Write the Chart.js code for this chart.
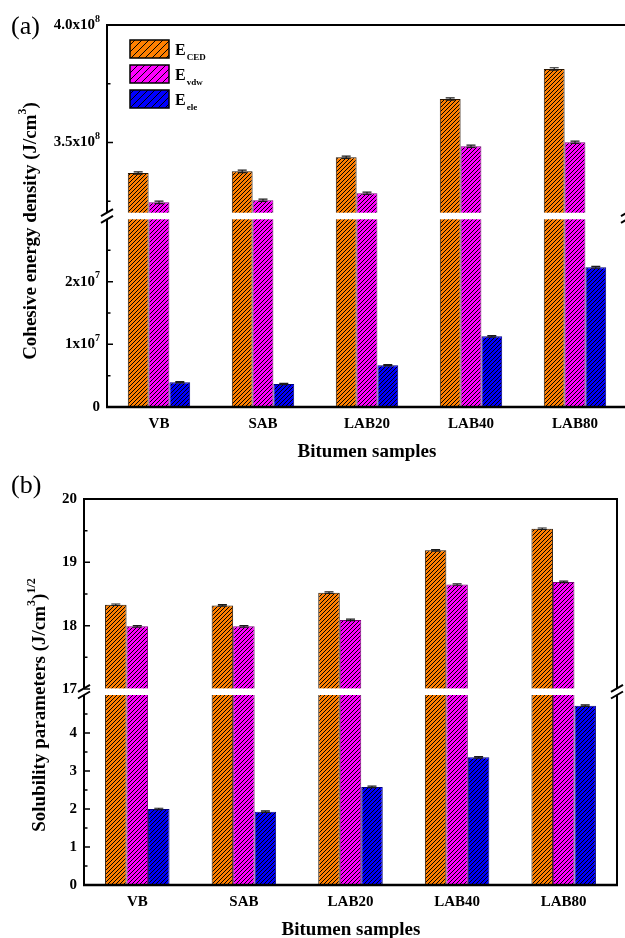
<!DOCTYPE html>
<html>
<head>
<meta charset="utf-8">
<script src="https://cdn.jsdelivr.net/npm/chart.js@4.4.0/dist/chart.umd.min.js"></script>
<style>
html, body { margin: 0; padding: 0; background: #fff; overflow: hidden; width: 625px; height: 938px; }
canvas { position: absolute; left: 0; }
</style>
</head>
<body>
<canvas id="chartA" width="640" height="468" style="top:0"></canvas>
<canvas id="chartB" width="625" height="470" style="top:468px"></canvas>
<script>
const samples = ['VB', 'SAB', 'LAB20', 'LAB40', 'LAB80'];

// (a) cohesive energy density (J/cm3)
const eCED = [3.370e8, 3.377e8, 3.437e8, 3.685e8, 3.813e8];
const eVdw = [3.245e8, 3.254e8, 3.284e8, 3.484e8, 3.501e8];
const eEle = [3.94e6, 3.67e6, 6.65e6, 1.128e7, 2.23e7];
const eCEDErr = [0.5e6, 0.5e6, 0.5e6, 0.5e6, 0.5e6];
const eVdwErr = [0.5e6, 0.5e6, 0.5e6, 0.5e6, 0.5e6];
const eEleErr = [1.0e5, 1.0e5, 1.0e5, 1.2e5, 1.5e5];

// (b) solubility parameters (J/cm3)^1/2
const dTotal = [18.33, 18.32, 18.52, 19.19, 19.53];
const dVdw = [17.99, 17.99, 18.09, 18.65, 18.69];
const dEle = [2.00, 1.93, 2.58, 3.36, 4.72];
const dTotalErr = [0.012, 0.012, 0.012, 0.012, 0.012];
const dVdwErr = [0.012, 0.012, 0.012, 0.012, 0.012];
const dEleErr = [0.02, 0.02, 0.02, 0.02, 0.02];

// tick values / labels ("^" starts a superscript)
const aLowTicks = [0, 1e7, 2e7];
const aLowLabels = ['0', '1x10^7', '2x10^7'];
const aLowMinor = [5e6, 1.5e7, 2.5e7];
const aHighTicks = [3.5e8, 4.0e8];
const aHighLabels = ['3.5x10^8', '4.0x10^8'];
const aHighMinor = [3.25e8, 3.75e8];

const bLowTicks = [0, 1, 2, 3, 4];
const bLowLabels = ['0', '1', '2', '3', '4'];
const bLowMinor = [0.5, 1.5, 2.5, 3.5, 4.5];
const bHighTicks = [17, 18, 19, 20];
const bHighLabels = ['17', '18', '19', '20'];
const bHighMinor = [17.5, 18.5, 19.5];

const fillColors = ['#FF8000', '#FF00FF', '#0000FF'];
const edgeColors = ['#2a1500', '#7a007a', '#000080'];
const FONT = '"Liberation Serif", "Times New Roman", serif';

Chart.defaults.font.family = FONT;

// crisp "/" hatch: one dark pixel per row of the tile
function hatch(ctx, color, size) {
  const c = document.createElement('canvas');
  c.width = size; c.height = size;
  const g = c.getContext('2d');
  g.fillStyle = color;
  g.fillRect(0, 0, size, size);
  g.fillStyle = '#000';
  for (let k = 0; k < size; k++) g.fillRect(k, size - 1 - k, 1, 1);
  return ctx.createPattern(c, 'repeat');
}

function parseRich(s) {
  const k = s.indexOf('^');
  if (k < 0) return [[s, false]];
  return [[s.slice(0, k), false], [s.slice(k + 1), true]];
}

function drawRich(ctx, parts, x, y, align, size, supSize, rise) {
  let w = 0;
  parts.forEach(([t, sup]) => {
    ctx.font = 'bold ' + (sup ? supSize : size) + 'px ' + FONT;
    w += ctx.measureText(t).width;
  });
  let cx = align === 'right' ? x - w : align === 'center' ? x - w / 2 : x;
  ctx.textAlign = 'left';
  ctx.textBaseline = 'middle';
  ctx.fillStyle = '#000';
  parts.forEach(([t, sup]) => {
    ctx.font = 'bold ' + (sup ? supSize : size) + 'px ' + FONT;
    ctx.fillText(t, cx, sup ? y - rise : y);
    cx += ctx.measureText(t).width;
  });
}

function makeDecor(p) {
  return {
    id: 'decor',
    afterDraw(chart) {
      const ctx = chart.ctx;
      const area = chart.chartArea;
      const yL = chart.scales.yLow, yH = chart.scales.yHigh;
      const yb = yH.bottom;
      const gap = 3.3;
      ctx.save();

      // error bars
      p.series.forEach((s, i) => {
        s.values.forEach((v, j) => {
          const high = v > p.high.min;
          const sc = high ? yH : yL;
          const bar = chart.getDatasetMeta(i * 2 + (high ? 1 : 0)).data[j];
          const x = bar.x, e = s.err[j];
          const yt = sc.getPixelForValue(v + e), ybo = sc.getPixelForValue(v - e);
          ctx.strokeStyle = '#1a1a1a';
          ctx.lineWidth = 1.2;
          ctx.beginPath();
          ctx.moveTo(x, yt); ctx.lineTo(x, ybo);
          ctx.moveTo(x - 4.5, yt); ctx.lineTo(x + 4.5, yt);
          ctx.moveTo(x - 4.5, ybo); ctx.lineTo(x + 4.5, ybo);
          ctx.stroke();
        });
      });

      // white break band
      ctx.fillStyle = '#fff';
      ctx.fillRect(area.left - 1, yb - gap, area.right - area.left + 2, gap * 2);

      // frame
      ctx.strokeStyle = '#000';
      ctx.lineWidth = 2;
      [area.left, area.right].forEach(x => {
        ctx.beginPath();
        ctx.moveTo(x, area.top - 1); ctx.lineTo(x, yb - gap);
        ctx.moveTo(x, yb + gap); ctx.lineTo(x, area.bottom);
        ctx.stroke();
        ctx.beginPath();
        ctx.moveTo(x - 6, yb - gap + 3.5); ctx.lineTo(x + 6, yb - gap - 3.5);
        ctx.moveTo(x - 6, yb + gap + 3.5); ctx.lineTo(x + 6, yb + gap - 3.5);
        ctx.stroke();
      });
      ctx.beginPath();
      ctx.moveTo(area.left - 1, area.top); ctx.lineTo(area.right + 1, area.top);
      ctx.stroke();
      ctx.lineWidth = 2.5;
      ctx.beginPath();
      ctx.moveTo(area.left - 1, area.bottom); ctx.lineTo(area.right + 1, area.bottom);
      ctx.stroke();

      // inward ticks
      ctx.lineWidth = 1.5;
      ctx.beginPath();
      const tick = (sc, v, len) => {
        const y = sc.getPixelForValue(v);
        ctx.moveTo(area.left, y); ctx.lineTo(area.left + len, y);
      };
      p.low.ticks.forEach(v => tick(yL, v, 6));
      p.low.minor.forEach(v => tick(yL, v, 3.5));
      p.high.ticks.forEach(v => tick(yH, v, 6));
      p.high.minor.forEach(v => tick(yH, v, 3.5));
      ctx.stroke();

      // tick labels
      p.low.ticks.forEach((v, k) => drawRich(ctx, parseRich(p.low.labels[k]), area.left - 7, yL.getPixelForValue(v), 'right', 15, 10, 6));
      p.high.ticks.forEach((v, k) => drawRich(ctx, parseRich(p.high.labels[k]), area.left - 7, yH.getPixelForValue(v), 'right', 15, 10, 6));

      // legend
      p.series.forEach((s, i) => {
        const lx = p.legend.x, ly = p.legend.y[i];
        ctx.fillStyle = p.legendPats[i];
        ctx.fillRect(lx, ly, 39, 18);
        ctx.strokeStyle = '#000';
        ctx.lineWidth = 1.5;
        ctx.strokeRect(lx, ly, 39, 18);
        ctx.fillStyle = '#000';
        ctx.textAlign = 'left';
        ctx.textBaseline = 'alphabetic';
        ctx.font = 'bold ' + p.legend.size + 'px ' + FONT;
        ctx.fillText(s.sym, lx + 45, ly + p.legend.base);
        const w = ctx.measureText(s.sym).width;
        ctx.font = 'bold 9px ' + FONT;
        ctx.fillText(s.sub, lx + 45 + w + 1, ly + p.legend.base + 5);
      });

      // axis titles
      drawRich(ctx, [[p.xTitle, false]], p.xTitlePos[0], p.xTitlePos[1], 'center', 19, 12, 8);
      ctx.save();
      ctx.translate(p.yTitlePos[0], p.yTitlePos[1]);
      ctx.rotate(-Math.PI / 2);
      drawRich(ctx, p.yTitle, 0, 0, 'center', 19, 12, 8);
      ctx.restore();

      // panel letter
      ctx.fillStyle = '#000';
      ctx.font = '26px ' + FONT;
      ctx.textAlign = 'left';
      ctx.textBaseline = 'middle';
      ctx.fillText(p.letter, 11, p.letterY);

      ctx.restore();
    }
  };
}

function buildChart(p) {
  const canvas = document.getElementById(p.canvas);
  const ctx = canvas.getContext('2d');
  const pats = fillColors.map(c => hatch(ctx, c, 4));
  p.legendPats = fillColors.map(c => hatch(ctx, c, 7));
  const datasets = [];
  p.series.forEach((s, i) => {
    const common = {
      stack: 's' + i,
      backgroundColor: pats[i],
      borderColor: edgeColors[i],
      borderWidth: 1,
      barPercentage: 1,
      categoryPercentage: p.catPct,
      clip: 0
    };
    datasets.push(Object.assign({
      label: s.sub + ' low',
      yAxisID: 'yLow',
      data: s.values.map(v => Math.min(v, p.low.max))
    }, common));
    datasets.push(Object.assign({
      label: s.sub + ' high',
      yAxisID: 'yHigh',
      data: s.values.map(v => v > p.high.min ? [p.high.min, v] : null)
    }, common));
  });
  const boundary = p.boundary;
  const hideY = {
    grid: { display: false, drawTicks: false },
    border: { display: false },
    ticks: { display: false },
    afterFit: sc => { sc.width = p.area.left; }
  };
  return new Chart(ctx, {
    type: 'bar',
    data: { labels: samples, datasets: datasets },
    options: {
      responsive: false,
      animation: false,
      events: [],
      layout: { padding: { left: 0, top: p.area.top, right: p.width - p.area.right, bottom: 0 } },
      plugins: { legend: { display: false }, tooltip: { enabled: false } },
      scales: {
        x: {
          type: 'category',
          stacked: true,
          grid: { display: false, drawTicks: false },
          border: { display: false },
          ticks: { color: '#000', font: { size: 15, weight: 'bold' }, padding: 8 },
          afterFit: sc => { sc.height = p.height - p.area.bottom; }
        },
        yLow: Object.assign({
          type: 'linear', position: 'left', stack: 'v', weight: 1,
          stackWeight: p.area.bottom - boundary,
          min: p.low.min, max: p.low.max, stacked: false
        }, hideY),
        yHigh: Object.assign({
          type: 'linear', position: 'left', stack: 'v', weight: 2,
          stackWeight: boundary - p.area.top,
          min: p.high.min, max: p.high.max, stacked: false
        }, hideY)
      }
    },
    plugins: [makeDecor(p)]
  });
}

buildChart({
  canvas: 'chartA', width: 640, height: 468,
  area: { left: 107, top: 25, right: 627, bottom: 407 },
  boundary: 216,
  catPct: 0.6,
  low: { min: 0, max: 3.048e7, ticks: aLowTicks, labels: aLowLabels, minor: aLowMinor },
  high: { min: 3.187e8, max: 4.0e8, ticks: aHighTicks, labels: aHighLabels, minor: aHighMinor },
  series: [
    { sym: 'E', sub: 'CED', values: eCED, err: eCEDErr },
    { sym: 'E', sub: 'vdw', values: eVdw, err: eVdwErr },
    { sym: 'E', sub: 'ele', values: eEle, err: eEleErr }
  ],
  legend: { x: 130, y: [40, 65, 90], size: 16, base: 15 },
  xTitle: 'Bitumen samples', xTitlePos: [367, 452],
  yTitle: [['Cohesive energy density (J/cm', false], ['3', true], [')', false]],
  yTitlePos: [31, 231],
  letter: '(a)', letterY: 27
});

buildChart({
  canvas: 'chartB', width: 625, height: 470,
  area: { left: 84, top: 31, right: 617, bottom: 417 },
  boundary: 223.7,
  catPct: 0.605,
  low: { min: 0, max: 5.087, ticks: bLowTicks, labels: bLowLabels, minor: bLowMinor },
  high: { min: 16.957, max: 20, ticks: bHighTicks, labels: bHighLabels, minor: bHighMinor },
  series: [
    { sym: 'δ', sub: '', values: dTotal, err: dTotalErr },
    { sym: 'δ', sub: 'vdw', values: dVdw, err: dVdwErr },
    { sym: 'δ', sub: 'ele', values: dEle, err: dEleErr }
  ],
  legend: { x: 102, y: [506, 529, 554], size: 17, base: 15 },
  xTitle: 'Bitumen samples', xTitlePos: [351, 462],
  yTitle: [['Solubility parameters (J/cm', false], ['3', true], [')', false], ['1/2', true]],
  yTitlePos: [40, 237],
  letter: '(b)', letterY: 18
});
</script>
</body>
</html>
